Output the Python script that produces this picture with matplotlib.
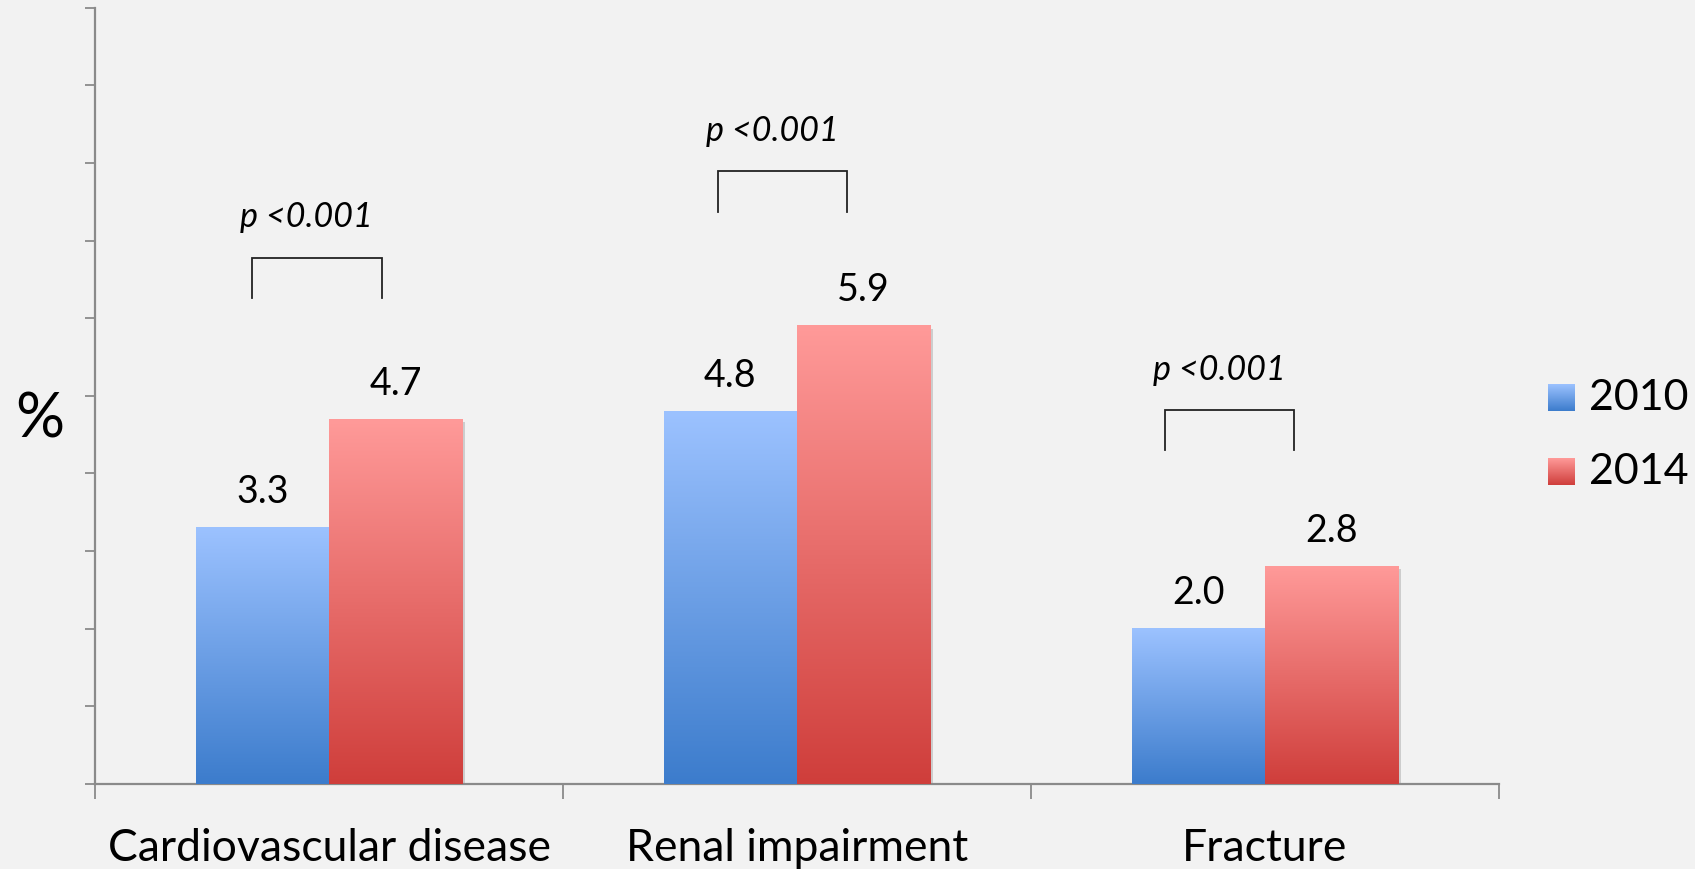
import numpy as np
import matplotlib
matplotlib.use("Agg")
import matplotlib.pyplot as plt
from matplotlib import patheffects as pe
from matplotlib.colors import LinearSegmentedColormap

categories = ["Cardiovascular disease", "Renal impairment", "Fracture"]
series_names = ["2010", "2014"]
values_2010 = [3.3, 4.8, 2.0]
values_2014 = [4.7, 5.9, 2.8]
p_labels = ["p <0.001", "p <0.001", "p <0.001"]

BG = "#F2F2F2"
blue_cmap = LinearSegmentedColormap.from_list("b", ["#3C7CCC", "#9CC2FF"])
red_cmap = LinearSegmentedColormap.from_list("r", ["#CF3E3B", "#FF9A99"])

plt.rcParams['font.family'] = ['Lato', 'DejaVu Sans']

fig = plt.figure(figsize=(16.95, 8.7), dpi=100, facecolor=BG)
ax = fig.add_axes([95/1695, (870-785)/870, (1499-95)/1695, (785-8.6)/870])
ax.set_facecolor(BG)

x = np.arange(len(categories))
w = 0.285
grad = np.linspace(0, 1, 256).reshape(-1, 1)

def draw_bars(xpos, vals, cmap):
    bars = ax.bar(xpos, vals, width=w, facecolor="none", edgecolor="none", zorder=2,
                  path_effects=[pe.SimplePatchShadow(offset=(2.0, -2.0), shadow_rgbFace="#000000", alpha=0.15), pe.Normal()])
    for b in bars:
        x0, y0 = b.get_x(), b.get_y()
        x1, y1 = x0 + b.get_width(), y0 + b.get_height()
        ax.imshow(grad, extent=[x0, x1, y0, y1], origin="lower", cmap=cmap,
                  aspect="auto", zorder=3, interpolation="bicubic")
    return bars

draw_bars(x - w/2, values_2010, blue_cmap)
draw_bars(x + w/2, values_2014, red_cmap)

for xi, v in zip(x - w/2, values_2010):
    ax.text(xi, v + 0.47, f"{v:.1f}", ha="center", va="center", fontsize=27, color="black", zorder=5)
for xi, v in zip(x + w/2, values_2014):
    ax.text(xi, v + 0.47, f"{v:.1f}", ha="center", va="center", fontsize=27, color="black", zorder=5)

# significance brackets
br_left = [-0.164, -0.168, -0.213]
br_right = [0.114, 0.107, 0.063]
br_top = [6.78, 7.89, 4.82]
for i, xc in enumerate(x):
    xl, xr, yt = xc + br_left[i], xc + br_right[i], br_top[i]
    ax.plot([xl, xl, xr, xr], [yt - 0.52, yt, yt, yt - 0.52], color="#222222", lw=1.3, zorder=4,
            solid_joinstyle="miter")
    ax.text(xl - 0.027, yt + 0.53, p_labels[i], ha="left", va="center", fontsize=24.5,
            style="italic", color="black", zorder=5)

ax.set_xlim(-0.5, 2.5)
ax.set_ylim(0, 10)
for s in ["top", "right"]:
    ax.spines[s].set_visible(False)
for s in ["left", "bottom"]:
    ax.spines[s].set_color("#8A8A8A")
    ax.spines[s].set_linewidth(1.6)

ax.set_yticks(np.arange(0, 11, 1))
ax.set_yticklabels([])
ax.tick_params(axis="y", length=7, width=1.3, color="#8A8A8A", direction="out")
ax.set_xticks([-0.5, 0.5, 1.5, 2.5])
ax.set_xticklabels([])
ax.tick_params(axis="x", which="major", length=11, width=1.3, color="#8A8A8A", direction="out")
ax.set_xticks(x, minor=True)
ax.set_xticklabels(categories, minor=True, fontsize=32)
ax.tick_params(axis="x", which="minor", length=0, pad=31)

fig.text(40/1695, 1 - 420/870, "%", ha="center", va="center", fontsize=44)

# legend
for j, (name, cmap) in enumerate(zip(series_names, [blue_cmap, red_cmap])):
    y_top = [385, 459][j]
    lax = fig.add_axes([1548/1695, (870 - y_top - 27)/870, 27/1695, 27/870])
    lax.imshow(grad, origin="lower", cmap=cmap, aspect="auto", extent=[0, 1, 0, 1])
    lax.set_axis_off()
    fig.text(1589/1695, 1 - (y_top + 13.5)/870, name, ha="left", va="center", fontsize=31)

fig.savefig("out.png", dpi=100, facecolor=BG)
